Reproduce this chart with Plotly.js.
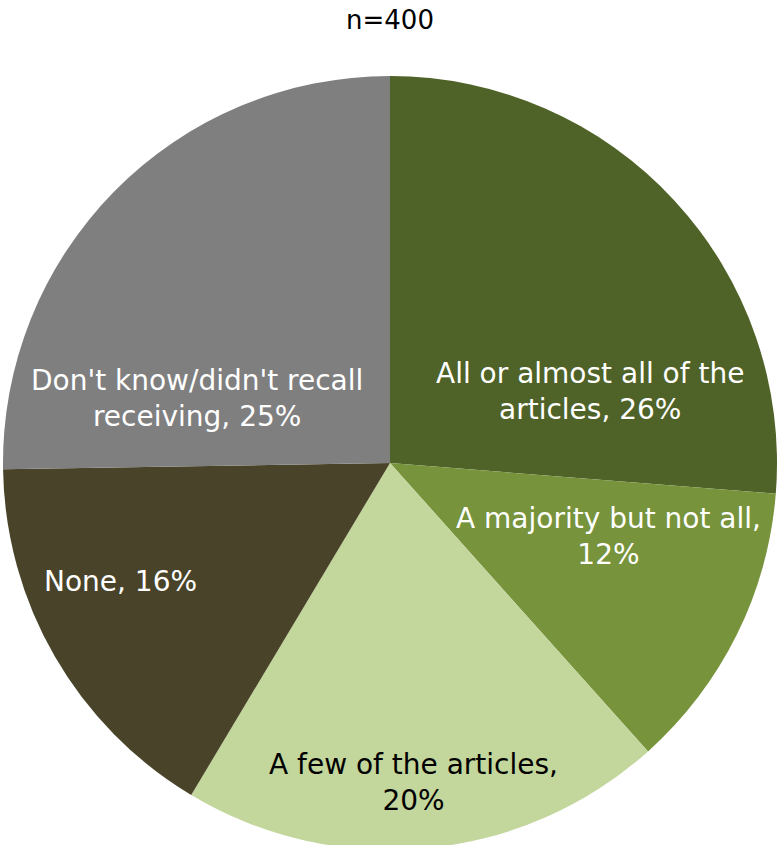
<!DOCTYPE html>
<html>
<head>
<meta charset="utf-8">
<script src="https://cdn.plot.ly/plotly-3.0.1.min.js"></script>
<style>
html, body { margin: 0; padding: 0; overflow: hidden; background: #fff; }
#chart { width: 777px; height: 850px; }
</style>
</head>
<body>
<div id="chart"></div>
<script>
const categories = [
  "All or almost all of the articles",
  "A majority but not all",
  "A few of the articles",
  "None",
  "Don't know/didn't recall receiving"
];
const values = [26, 12, 20, 16, 25];
const labelText = [
  "All or almost all of the<br>articles, 26%",
  "A majority but not all,<br>12%",
  "A few of the articles,<br>20%",
  "None, 16%",
  "Don't know/didn't recall<br>receiving, 25%"
];
const colors = ["#4F6228", "#77933C", "#C3D69B", "#494429", "#7F7F7F"];
const textColors = ["#FFFFFF", "#FFFFFF", "#000000", "#FFFFFF", "#FFFFFF"];

// label placement (paper coordinates), layout only
const labelPos = [
  [0.7578, 0.5930],
  [0.7829, 0.4044],
  [0.5304, 0.0872],
  [0.1512, 0.3475],
  [0.2500, 0.5827]
];

const FONT = "DejaVu Sans, Liberation Sans, Arial, sans-serif";

const trace = {
  type: "pie",
  labels: categories,
  values: values,
  textinfo: "none",
  sort: false,
  direction: "clockwise",
  rotation: 0,
  marker: { colors: colors, line: { width: 0 } },
  hoverinfo: "none",
  showlegend: false
};

const annotations = labelText.map((t, i) => ({
  text: t,
  x: labelPos[i][0], y: labelPos[i][1],
  xref: "paper", yref: "paper",
  xanchor: "center", yanchor: "middle",
  align: "center",
  showarrow: false,
  font: { family: FONT, size: 28, color: textColors[i] }
}));

const layout = {
  width: 777,
  height: 850,
  margin: { l: 3, r: 0, t: 76, b: 0, pad: 0 },
  paper_bgcolor: "#FFFFFF",
  title: {
    text: "n=400",
    font: { family: FONT, size: 26, color: "#000000" },
    x: 0.5, xref: "paper", xanchor: "center",
    y: 0.977, yref: "container", yanchor: "middle"
  },
  annotations: annotations,
  showlegend: false
};

Plotly.newPlot("chart", [trace], layout, { displayModeBar: false, staticPlot: true });
</script>
</body>
</html>
